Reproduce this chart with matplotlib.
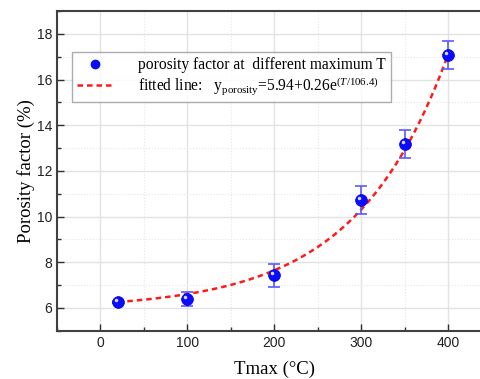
import numpy as np
import matplotlib
matplotlib.use("Agg")
import matplotlib.pyplot as plt
from matplotlib.transforms import offset_copy
from matplotlib.ticker import MultipleLocator
from matplotlib.lines import Line2D

plt.rcParams['mathtext.fontset'] = 'custom'
plt.rcParams['mathtext.rm'] = 'Liberation Serif'
plt.rcParams['mathtext.it'] = 'Liberation Serif:italic'

# data
T = [20, 100, 200, 300, 350, 400]
porosity = [6.27, 6.38, 7.42, 10.72, 13.17, 17.07]
err = [0.05, 0.31, 0.5, 0.6, 0.6, 0.6]
fit_a, fit_b, fit_c = 5.94, 0.26, 106.4

fig = plt.figure(figsize=(4.81, 3.79), dpi=100)
W, H = 481, 379
x0, x1 = 57, 491.5
y0, y1 = 330.7, 11
ax = fig.add_axes([x0 / W, 1 - y0 / H, (x1 - x0) / W, (y0 - y1) / H])

ax.set_xlim(-50, 450)
ax.set_ylim(5, 19)
ax.xaxis.set_major_locator(MultipleLocator(100))
ax.xaxis.set_minor_locator(MultipleLocator(50))
ax.yaxis.set_major_locator(MultipleLocator(2))
ax.yaxis.set_minor_locator(MultipleLocator(1))
ax.grid(which='major', color='#e2e2e2', lw=1.0, ls='-')
ax.grid(which='minor', color='#e6e6e6', lw=0.8, ls=':')
ax.set_axisbelow(True)

for s in ax.spines.values():
    s.set_color('#404040')
    s.set_linewidth(1.5)
ax.tick_params(which='both', direction='in', color='#303030', labelsize=10,
               labelcolor='#222222')
ax.tick_params(which='major', length=5, width=1)
ax.tick_params(which='minor', length=3, width=1)
for lab in ax.get_xticklabels() + ax.get_yticklabels():
    lab.set_fontfamily('Liberation Sans')

tt = np.linspace(T[0], T[-1], 200)
ax.plot(tt, fit_a + fit_b * np.exp(tt / fit_c), color='#ff1a1a', lw=1.8,
        dashes=(2.2, 1.6), zorder=2)

ax.errorbar(T, porosity, yerr=err, fmt='none', ecolor='#5a5aff', elinewidth=1.2,
            capsize=4, capthick=1.2, zorder=3)
ax.plot(T, porosity, 'o', ms=8.5, color='#0a0aff', mec='#0000cc', mew=0.5,
        zorder=4, ls='none')
hl = offset_copy(ax.transData, fig=fig, x=-1.5, y=1.5, units='points')
ax.plot(T, porosity, 'o', ms=2.5, color='white', mew=0, alpha=0.85,
        transform=hl, zorder=5, ls='none')

ax.set_ylabel('Porosity factor (%)', family='Liberation Serif', fontsize=13.5,
              labelpad=1)
ax.set_xlabel('Tmax (°C)', family='Liberation Serif', fontsize=13.5, labelpad=8)

h1 = Line2D([], [], marker='o', ls='none', color='#0a0aff', ms=6)
h2 = Line2D([], [], color='#ff1a1a', lw=1.8, dashes=(2.2, 1.6))
leg = ax.legend([h1, h2],
                ['porosity factor at  different maximum T',
                 r'fitted line:   $\mathregular{y_{porosity}}$=5.94+0.26e$^{(\mathit{T}/106.4)}$'],
                loc='upper left', bbox_to_anchor=(0.0345, 0.872),
                prop={'family': 'Liberation Serif', 'size': 11.2},
                frameon=True, fancybox=False, edgecolor='#999999',
                borderaxespad=0, handlelength=2.2, handletextpad=1.7,
                borderpad=0.35, labelspacing=0.1)
leg.get_frame().set_linewidth(1.0)

fig.savefig('out.png', dpi=100)
